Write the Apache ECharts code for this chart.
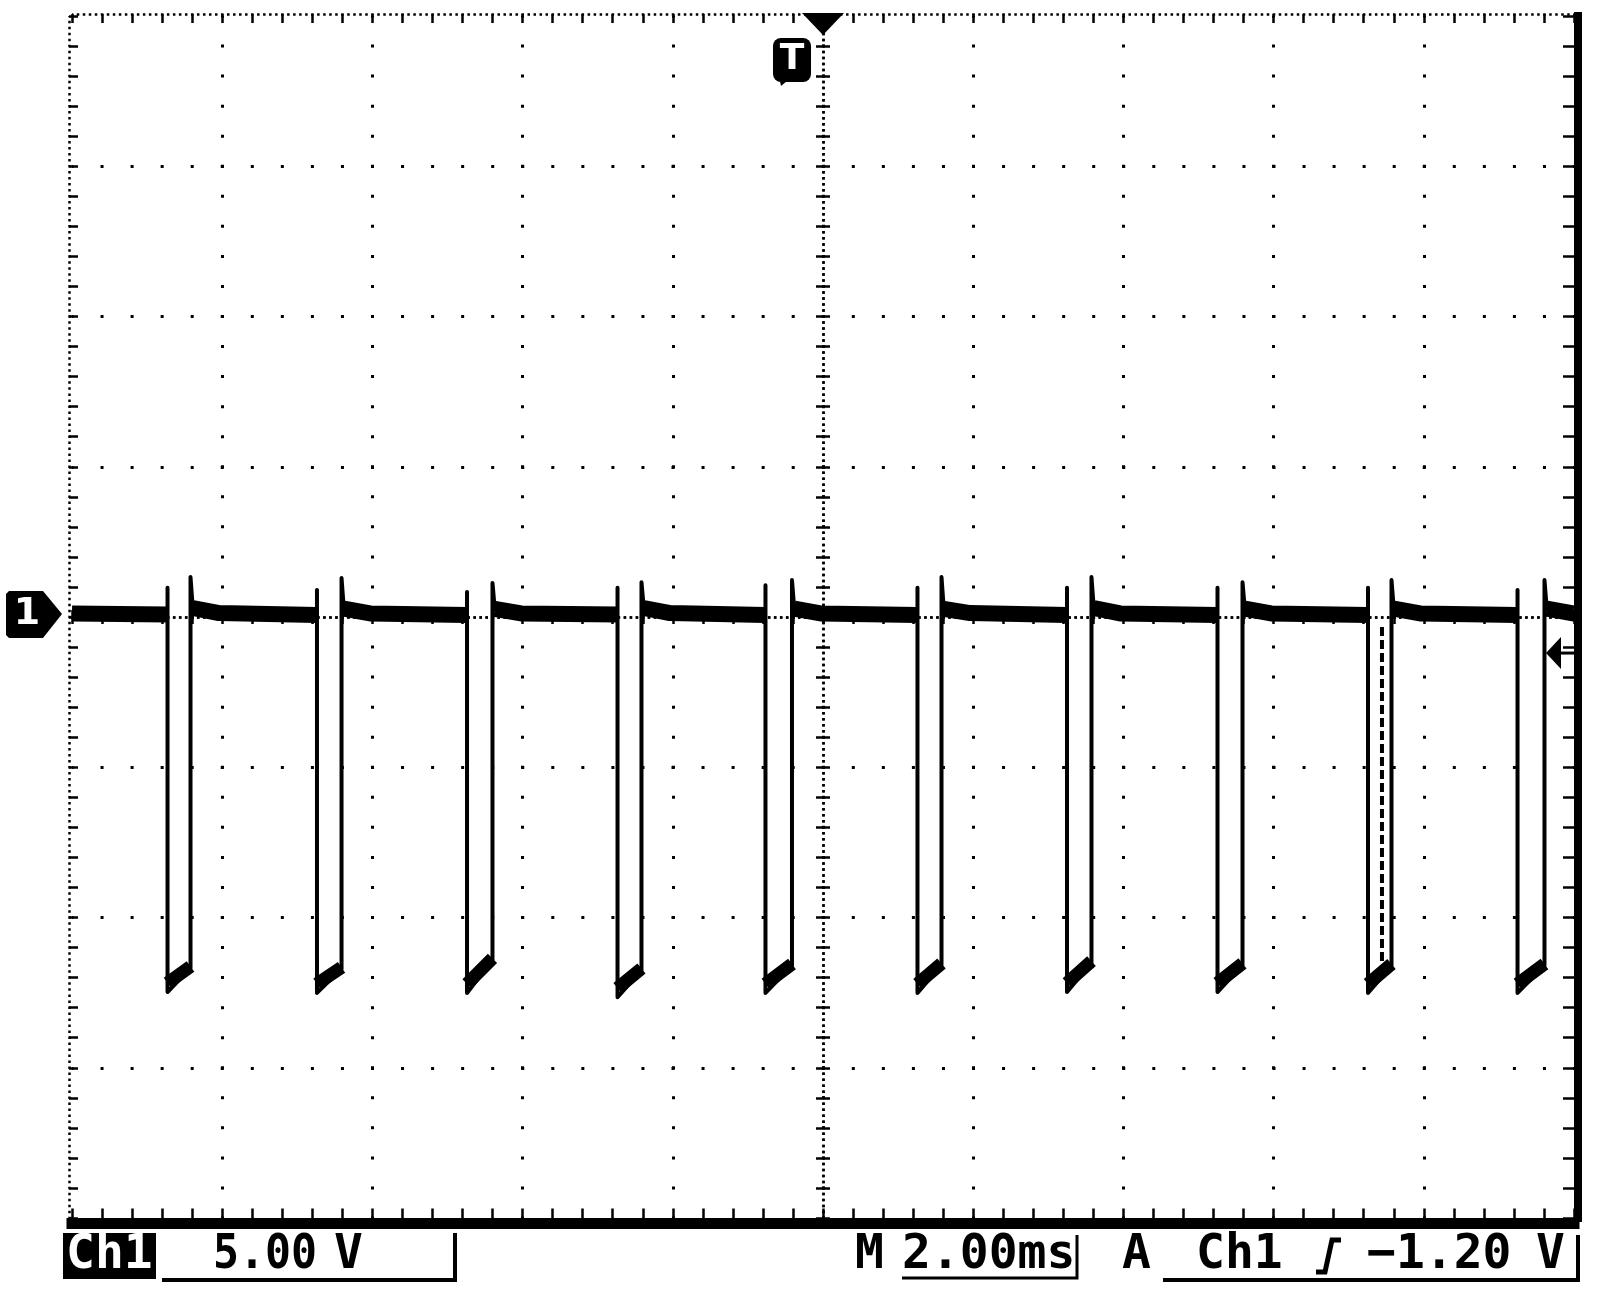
<!DOCTYPE html>
<html>
<head>
<meta charset="utf-8">
<script src="https://cdn.jsdelivr.net/npm/echarts@6/dist/echarts.min.js"></script>
<style>
html,body{margin:0;padding:0;background:#ffffff;}
#c{width:1600px;height:1304px;}
</style>
</head>
<body>
<div id="c"></div>
<script>
// ---- scales (oscilloscope settings) ----
const timeMin = -10, timeMax = 10, timeStep = 2;     // ms, M 2.00ms per division
const voltMin = -20, voltMax = 20, voltStep = 5;     // V, Ch1 5.00 V per division
const triggerLevelV = -1.2;                          // A Ch1 rising -1.20 V
const groundV = 0;

// ---- waveform values (ms / V) ----
const fallTimes   = [-8.728, -6.738, -4.740, -2.736, -0.766, 1.258, 3.249, 5.253, 7.257, 9.248];
const riseTimes   = [-8.422, -6.411, -4.401, -2.417, -0.413, 1.578, 3.575, 5.586, 7.570, 9.607];
const spikeV      = [0.97, 0.90, 0.83, 0.97, 1.06, 0.97, 0.97, 0.97, 0.97, 0.90];
const lowStartV   = [-12.48, -12.51, -12.51, -12.65, -12.51, -12.51, -12.48, -12.48, -12.51, -12.51];
const lowEndV     = [-11.68, -11.71, -11.41, -11.75, -11.60, -11.58, -11.50, -11.58, -11.60, -11.60];
const overshootV  = [1.33, 1.30, 1.13, 1.16, 1.23, 1.33, 1.33, 1.16, 1.23, 1.23];
const baseAfterRiseV  = [0.30, 0.28, 0.27, 0.30, 0.28, 0.27, 0.30, 0.28, 0.28, 0.28];
const baseSettledV    = [0.13, 0.12, 0.12, 0.13, 0.12, 0.13, 0.12, 0.12, 0.12, 0.12];
const baseBeforeFallV = [0.08, 0.07, 0.07, 0.08, 0.07, 0.07, 0.07, 0.07, 0.07, 0.07];
const startV = 0.12, endV = 0.25;
const settleMs = 0.03, decayMs = 0.35;
// ghost (persisted) falling edge near the 9th pulse
const ghostTimes = [7.443];
const ghostTopV = [-0.33];
const ghostBottomV = [-11.75];

// ---- build series data from the arrays ----
const GAP = '-';
function buildTrace() {
  const d = [[timeMin, startV]];
  for (let i = 0; i < fallTimes.length; i++) {
    d.push([fallTimes[i], baseBeforeFallV[i]]);
    d.push([fallTimes[i], spikeV[i]]);
    d.push([fallTimes[i], lowStartV[i]]);
    d.push([riseTimes[i], lowEndV[i]]);
    d.push([riseTimes[i], overshootV[i]]);
    d.push([riseTimes[i] + settleMs, baseAfterRiseV[i]]);
    d.push([riseTimes[i] + settleMs + decayMs, baseSettledV[i]]);
  }
  d.push([timeMax, endV]);
  return d;
}
function buildHighBand() {
  const d = [[timeMin, startV], [fallTimes[0], baseBeforeFallV[0]], [fallTimes[0], GAP]];
  for (let i = 0; i < fallTimes.length; i++) {
    const next = (i + 1 < fallTimes.length) ? [fallTimes[i + 1], baseBeforeFallV[i + 1]] : [timeMax, endV];
    d.push([riseTimes[i] + settleMs, baseAfterRiseV[i]]);
    d.push([riseTimes[i] + settleMs + decayMs, baseSettledV[i]]);
    d.push(next);
    d.push([next[0], GAP]);
  }
  return d;
}
function buildLowBand() {
  const d = [];
  for (let i = 0; i < fallTimes.length; i++) {
    d.push([fallTimes[i], lowStartV[i] + 0.3]);
    d.push([riseTimes[i], lowEndV[i] + 0.05]);
    d.push([riseTimes[i], GAP]);
  }
  return d;
}
function buildGhost() {
  const d = [];
  for (let i = 0; i < ghostTimes.length; i++) {
    d.push([ghostTimes[i], ghostTopV[i]], [ghostTimes[i], ghostBottomV[i]], [ghostTimes[i], GAP]);
  }
  return d;
}

// ---- styles ----
const BLACK = '#000000';
const dotGrid = { color: BLACK, width: 3, type: [3, 27.05], dashOffset: 1.5, cap: 'butt' };
const fineDot = { color: BLACK, width: 2.5, type: [2.5, 3.51], dashOffset: 1.25, cap: 'butt' };
const tickStyle = { color: BLACK, width: 2.5 };

function xAx(extra) {
  return Object.assign({
    type: 'value', min: timeMin, max: timeMax, interval: timeStep,
    axisLabel: { show: false }, splitLine: { show: false }, minorSplitLine: { show: false }
  }, extra);
}
function yAx(extra) {
  return Object.assign({
    type: 'value', min: voltMin, max: voltMax, interval: voltStep,
    axisLabel: { show: false }, splitLine: { show: false }, minorSplitLine: { show: false }
  }, extra);
}

const chart = echarts.init(document.getElementById('c'), null, { renderer: 'canvas', width: 1600, height: 1304 });

const option = {
  backgroundColor: '#ffffff',
  animation: false,
  grid: { left: 72, top: 16, width: 1502, height: 1202, containLabel: false, outerBoundsMode: 'none' },
  xAxis: [
    xAx({ // bottom thick frame + vertical graticule
      position: 'bottom', offset: 5.5,
      axisLine: { show: true, onZero: false, lineStyle: { color: BLACK, width: 11, cap: 'square' } },
      axisTick: { show: true, inside: true, length: 15, lineStyle: tickStyle },
      minorTick: { show: true, splitNumber: 5, length: 15, lineStyle: tickStyle },
      splitLine: { show: true, showMinLine: false, showMaxLine: false, lineStyle: dotGrid }
    }),
    xAx({ // top frame
      position: 'top', offset: 2,
      axisLine: { show: true, onZero: false, lineStyle: fineDot },
      axisTick: { show: true, inside: true, length: 9, lineStyle: tickStyle },
      minorTick: { show: true, splitNumber: 5, length: 9, lineStyle: tickStyle }
    }),
    xAx({ // center horizontal line, ticks upward
      position: 'bottom',
      axisLine: { show: true, onZero: true, onZeroAxisIndex: 0, lineStyle: fineDot },
      axisTick: { show: true, inside: true, length: 7, lineStyle: tickStyle },
      minorTick: { show: true, splitNumber: 5, length: 7, lineStyle: tickStyle }
    }),
    xAx({ // center horizontal line, ticks downward
      position: 'bottom',
      axisLine: { show: true, onZero: true, onZeroAxisIndex: 0, lineStyle: fineDot },
      axisTick: { show: true, inside: false, length: 7, lineStyle: tickStyle },
      minorTick: { show: true, splitNumber: 5, length: 7, lineStyle: tickStyle }
    })
  ],
  yAxis: [
    yAx({ // left frame + horizontal graticule
      position: 'left', offset: 3,
      axisLine: { show: true, onZero: false, lineStyle: fineDot },
      axisTick: { show: true, inside: true, length: 9, lineStyle: tickStyle },
      minorTick: { show: true, splitNumber: 5, length: 9, lineStyle: tickStyle },
      splitLine: { show: true, showMinLine: false, showMaxLine: false, lineStyle: dotGrid }
    }),
    yAx({ // right thick frame
      position: 'right', offset: 4,
      axisLine: { show: true, onZero: false, lineStyle: { color: BLACK, width: 8, cap: 'square' } },
      axisTick: { show: true, inside: true, length: 15, lineStyle: tickStyle },
      minorTick: { show: true, splitNumber: 5, length: 15, lineStyle: tickStyle }
    }),
    yAx({ // center vertical line, ticks right
      position: 'left',
      axisLine: { show: true, onZero: true, onZeroAxisIndex: 0, lineStyle: fineDot },
      axisTick: { show: true, inside: true, length: 7, lineStyle: tickStyle },
      minorTick: { show: true, splitNumber: 5, length: 7, lineStyle: tickStyle }
    }),
    yAx({ // center vertical line, ticks left
      position: 'left',
      axisLine: { show: true, onZero: true, onZeroAxisIndex: 0, lineStyle: fineDot },
      axisTick: { show: true, inside: false, length: 7, lineStyle: tickStyle },
      minorTick: { show: true, splitNumber: 5, length: 7, lineStyle: tickStyle }
    })
  ],
  series: [
    {
      name: 'noise band high', type: 'line', xAxisIndex: 0, yAxisIndex: 0,
      data: buildHighBand(), showSymbol: false, symbol: 'none', silent: true, connectNulls: false,
      lineStyle: { color: BLACK, width: 16, cap: 'butt', join: 'round' }, z: 3
    },
    {
      name: 'noise band low', type: 'line', xAxisIndex: 0, yAxisIndex: 0,
      data: buildLowBand(), showSymbol: false, symbol: 'none', silent: true, connectNulls: false,
      lineStyle: { color: BLACK, width: 13, cap: 'butt', join: 'round' }, z: 3
    },
    {
      name: 'Ch1', type: 'line', xAxisIndex: 0, yAxisIndex: 0,
      data: buildTrace(), showSymbol: false, symbol: 'none', silent: true,
      lineStyle: { color: BLACK, width: 4, cap: 'butt', join: 'round' }, z: 4
    },
    {
      name: 'ghost edge', type: 'line', xAxisIndex: 0, yAxisIndex: 0,
      data: buildGhost(), showSymbol: false, symbol: 'none', silent: true, connectNulls: false,
      lineStyle: { color: BLACK, width: 4, type: [9, 4], cap: 'butt' }, z: 4
    }
  ]
};
chart.setOption(option);

// ---- screen annotations ----
const toPx = (t, v) => chart.convertToPixel({ xAxisIndex: 0, yAxisIndex: 0 }, [t, v]);
const pTop = toPx(0, voltMax);
const pGnd = toPx(timeMin, groundV);
const pTrig = toPx(timeMax, triggerLevelV);
const FONT = 'bold 48px "DejaVu Sans Mono", monospace';
const TY = 1256;
function txt(s, x, color, sx) {
  return {
    type: 'text', x: x, y: TY, scaleX: sx || 1, silent: true, z: 10,
    style: { text: s, x: 0, y: 0, font: FONT, fill: color || BLACK,
      align: 'left', verticalAlign: 'middle', textAlign: 'left', textVerticalAlign: 'middle' }
  };
}
function poly(points, w) {
  return { type: 'polyline', silent: true, z: 10, shape: { points: points },
    style: { stroke: BLACK, lineWidth: w, fill: null, lineCap: 'butt', lineJoin: 'miter' } };
}
const graphics = [
  // trigger position marker (top)
  { type: 'polygon', silent: true, z: 10, shape: { points: [[pTop[0] - 21, pTop[1] - 3], [pTop[0] + 21, pTop[1] - 3], [pTop[0], pTop[1] + 19]] }, style: { fill: BLACK } },
  { type: 'rect', silent: true, z: 10, shape: { x: pTop[0] - 50, y: pTop[1] + 22, width: 38, height: 44, r: 8 }, style: { fill: BLACK } },
  { type: 'polygon', silent: true, z: 10, shape: { points: [[pTop[0] - 44, pTop[1] + 60], [pTop[0] - 30, pTop[1] + 60], [pTop[0] - 42, pTop[1] + 70]] }, style: { fill: BLACK } },
  { type: 'text', silent: true, z: 11, x: pTop[0] - 31, y: pTop[1] + 44,
    style: { text: 'T', x: 0, y: 0, font: 'bold 36px "DejaVu Sans", sans-serif', fill: '#ffffff', align: 'center', verticalAlign: 'middle', textAlign: 'center', textVerticalAlign: 'middle' } },
  // channel 1 ground marker (left)
  { type: 'polygon', silent: true, z: 10, shape: { points: [
      [9, pGnd[1] - 26], [43, pGnd[1] - 26], [pGnd[0] - 10, pGnd[1] - 3], [43, pGnd[1] + 21], [9, pGnd[1] + 21], [6, pGnd[1] + 18], [6, pGnd[1] - 23]] },
    style: { fill: BLACK } },
  { type: 'text', silent: true, z: 11, x: 27, y: pGnd[1] - 3,
    style: { text: '1', x: 0, y: 0, font: 'bold 38px "DejaVu Sans", sans-serif', fill: '#ffffff', align: 'center', verticalAlign: 'middle', textAlign: 'center', textVerticalAlign: 'middle' } },
  // trigger level marker (right)
  { type: 'polygon', silent: true, z: 10, shape: { points: [[pTrig[0] - 28, pTrig[1]], [pTrig[0] - 13, pTrig[1] - 16], [pTrig[0] - 13, pTrig[1] + 16]] }, style: { fill: BLACK } },
  { type: 'line', silent: true, z: 10, shape: { x1: pTrig[0] - 14, y1: pTrig[1], x2: pTrig[0], y2: pTrig[1] }, style: { stroke: BLACK, lineWidth: 3 } },
  // readout: channel box
  { type: 'rect', silent: true, z: 10, shape: { x: 63, y: 1233, width: 93, height: 46 }, style: { fill: BLACK } },
  txt('Ch1', 66, '#ffffff'),
  txt('5.00', 213, BLACK, 0.9),
  txt('V', 334),
  poly([[162, 1280], [455, 1280], [455, 1233]], 4),
  // timebase
  txt('M', 855),
  txt('2.00ms', 902),
  poly([[902, 1278], [1077, 1278], [1077, 1235]], 3),
  // trigger readout
  txt('A', 1122),
  txt('Ch1', 1196),
  poly([[1316, 1272], [1325, 1272], [1332, 1240], [1341, 1240]], 5),
  txt('\u22121.20', 1367),
  txt('V', 1536),
  poly([[1163, 1280], [1578, 1280], [1578, 1235]], 4)
];
chart.setOption({ graphic: graphics });
</script>
</body>
</html>
